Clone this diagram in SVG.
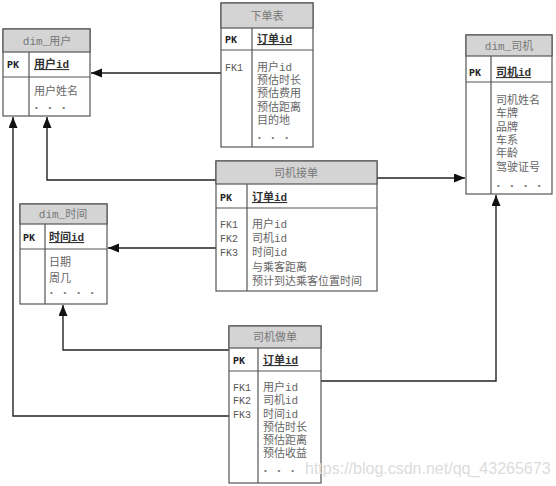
<svg xmlns="http://www.w3.org/2000/svg" width="556" height="486" viewBox="0 0 556 486">
<defs>
<style>
.box{fill:#fff;stroke:#555;stroke-width:1.2}
.hdr{fill:#d4d4d4;stroke:#555;stroke-width:1.2}
.ln{stroke:#555;stroke-width:1.2;fill:none}
text{font-family:"Liberation Mono","Noto Sans CJK SC",monospace;font-size:11px;fill:#666}
.h{text-anchor:middle;fill:#777}
.pk{font-weight:bold;fill:#222;font-size:10px}
.key{font-weight:bold;fill:#333;text-decoration:underline}
.fk{font-size:10px;fill:#555}
.dots{font-size:8px;fill:#777;letter-spacing:2px}
.con{stroke:#222;stroke-width:1.4;fill:none;marker-end:url(#arr)}
.wm{font-family:"Liberation Sans",Arial,sans-serif;font-size:16px;fill:#dcdcdc}
</style>
<marker id="arr" markerUnits="userSpaceOnUse" markerWidth="12" markerHeight="10" refX="11" refY="4.5" orient="auto">
<path d="M0,0 L11,4.5 L0,9 z" fill="#111"/>
</marker>
</defs>

<g id="connectors">
<path class="con" d="M221,73 H91"/>
<path class="con" d="M216,180 H47 V117"/>
<path class="con" d="M229,416 H13 V117"/>
<path class="con" d="M377,178 H465"/>
<path class="con" d="M216,248 H108"/>
<path class="con" d="M229,350 H63 V305"/>
<path class="con" d="M321,381 H496 V195"/>
</g>

<g id="dim_user">
<rect class="box" x="3" y="29" width="87" height="87"/>
<rect class="hdr" x="3" y="29" width="87" height="23"/>
<line class="ln" x1="3" y1="77" x2="90" y2="77"/>
<line class="ln" x1="29" y1="52" x2="29" y2="116"/>
<text class="h" x="47" y="45">dim_用户</text>
<text class="pk" x="7" y="68">PK</text>
<text class="key" x="34" y="68">用户id</text>
<text x="34" y="95">用户姓名</text>
<text class="dots" x="34" y="110">• • •</text>
</g>

<g id="order_table">
<rect class="box" x="221" y="3" width="92" height="144"/>
<rect class="hdr" x="221" y="3" width="92" height="25"/>
<line class="ln" x1="221" y1="50" x2="313" y2="50"/>
<line class="ln" x1="252" y1="28" x2="252" y2="147"/>
<text class="h" x="267" y="20">下单表</text>
<text class="pk" x="225" y="43">PK</text>
<text class="key" x="257" y="43">订单id</text>
<text class="fk" x="225" y="71">FK1</text>
<text x="257" y="71">用户id</text>
<text x="257" y="84">预估时长</text>
<text x="257" y="97">预估费用</text>
<text x="257" y="111">预估距离</text>
<text x="257" y="124">目的地</text>
<text class="dots" x="257" y="140">• • •</text>
</g>

<g id="dim_driver">
<rect class="box" x="466" y="35" width="86" height="159"/>
<rect class="hdr" x="466" y="35" width="86" height="21"/>
<line class="ln" x1="466" y1="82" x2="552" y2="82"/>
<line class="ln" x1="491" y1="56" x2="491" y2="194"/>
<text class="h" x="509" y="50">dim_司机</text>
<text class="pk" x="469" y="76">PK</text>
<text class="key" x="496" y="76">司机id</text>
<text x="496" y="104">司机姓名</text>
<text x="496" y="117">车牌</text>
<text x="496" y="131">品牌</text>
<text x="496" y="144">车系</text>
<text x="496" y="157">年龄</text>
<text x="496" y="171">驾驶证号</text>
<text class="dots" x="496" y="188">• • • •</text>
</g>

<g id="driver_accept">
<rect class="box" x="216" y="161" width="161" height="130"/>
<rect class="hdr" x="216" y="161" width="161" height="23"/>
<line class="ln" x1="216" y1="208" x2="377" y2="208"/>
<line class="ln" x1="247" y1="184" x2="247" y2="291"/>
<text class="h" x="296" y="177">司机接单</text>
<text class="pk" x="220" y="201">PK</text>
<text class="key" x="252" y="201">订单id</text>
<text class="fk" x="220" y="228">FK1</text>
<text class="fk" x="220" y="242">FK2</text>
<text class="fk" x="220" y="256">FK3</text>
<text x="252" y="228">用户id</text>
<text x="252" y="242">司机id</text>
<text x="252" y="256">时间id</text>
<text x="252" y="271">与乘客距离</text>
<text x="252" y="285">预计到达乘客位置时间</text>
</g>

<g id="dim_time">
<rect class="box" x="20" y="204" width="87" height="100"/>
<rect class="hdr" x="20" y="204" width="87" height="20"/>
<line class="ln" x1="20" y1="249" x2="107" y2="249"/>
<line class="ln" x1="45" y1="224" x2="45" y2="304"/>
<text class="h" x="63" y="218">dim_时间</text>
<text class="pk" x="23" y="241">PK</text>
<text class="key" x="49" y="241">时间id</text>
<text x="49" y="266">日期</text>
<text x="49" y="282">周几</text>
<text class="dots" x="49" y="295">• • • •</text>
</g>

<g id="driver_do">
<rect class="box" x="229" y="326" width="92" height="157"/>
<rect class="hdr" x="229" y="326" width="92" height="22"/>
<line class="ln" x1="229" y1="371" x2="321" y2="371"/>
<line class="ln" x1="258" y1="348" x2="258" y2="483"/>
<text class="h" x="275" y="341">司机做单</text>
<text class="pk" x="233" y="364">PK</text>
<text class="key" x="263" y="364">订单id</text>
<text class="fk" x="233" y="391">FK1</text>
<text class="fk" x="233" y="404">FK2</text>
<text class="fk" x="233" y="418">FK3</text>
<text x="263" y="391">用户id</text>
<text x="263" y="404">司机id</text>
<text x="263" y="418">时间id</text>
<text x="263" y="431">预估时长</text>
<text x="263" y="444">预估距离</text>
<text x="263" y="457">预估收益</text>
<text class="dots" x="263" y="473">• • •</text>
</g>

<text class="wm" x="305" y="474">https://blog.csdn.net/qq_43265673</text>
</svg>
